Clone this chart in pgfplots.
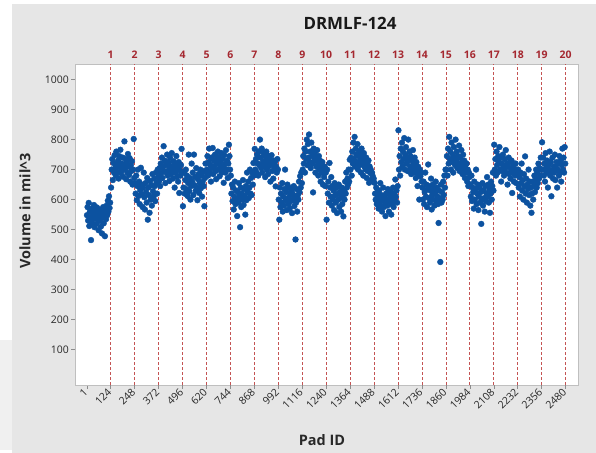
\documentclass[border=0pt]{standalone}
\usepackage{fontspec}
\setmainfont{Open Sans}
\usepackage{pgfplots}
\pgfplotsset{compat=1.18}
\definecolor{bg}{RGB}{230,230,230}
\definecolor{ptblue}{RGB}{12,82,160}
\definecolor{lnred}{RGB}{196,84,84}
\definecolor{lblred}{RGB}{165,40,48}
\definecolor{txt}{RGB}{40,40,40}
\pgfplotsset{pts/.style={only marks, mark=*, mark size=2.9bp, color=ptblue, mark options={draw=none, fill=ptblue}}}
\begin{document}
\begin{tikzpicture}[x=1bp,y=1bp]
\fill[white] (0,0) rectangle (596,453);
\fill[bg] (12,0) rectangle (596,449);
\fill[black!6] (0,3) rectangle (12,113);
\begin{axis}[at={(75bp,68bp)}, anchor=south west, scale only axis, width=503bp, height=321bp,
  xmin=-61, xmax=2544, ymin=-18, ymax=1052,
  axis background/.style={fill=white},
  axis line style={draw=black!25},
  xtick={1,124,248,372,496,620,744,868,992,1116,1240,1364,1488,1612,1736,1860,1984,2108,2232,2356,2480},
  ytick={100,200,300,400,500,600,700,800,900,1000},
  extra x ticks={124,248,372,496,620,744,868,992,1116,1240,1364,1488,1612,1736,1860,1984,2108,2232,2356,2480},
  extra x tick labels={},
  extra x tick style={grid=major},
  major grid style={draw=lnred, line width=0.8bp, dash pattern=on 3bp off 2bp},
  tick align=outside, tick pos=left, major tick length=4bp,
  tick style={draw=black!45, line width=0.6bp},
  scaled ticks=false, /pgf/number format/assume math mode=true, /pgf/number format/1000 sep={},
  ticklabel style={font=\fontsize{10.5}{12}\selectfont, text=black!85},
  xticklabel style={rotate=45, anchor=east, inner sep=1.5bp},
  yticklabel style={inner sep=2bp},
]
\addplot[pts] table[x expr=\coordindex*3+1, y index=0, header=false, row sep=\\] {548\\575\\530\\589\\512\\560\\541\\465\\570\\523\\555\\537\\582\\508\\546\\563\\519\\574\\535\\552\\498\\567\\529\\544\\510\\558\\487\\540\\575\\521\\552\\478\\565\\535\\580\\548\\596\\560\\611\\572\\590\\};
\addplot[pts] table[x expr=\coordindex*3+126, y index=0, header=false, row sep=\\] {640\\700\\735\\665\\722\\690\\748\\705\\680\\760\\715\\692\\730\\670\\745\\708\\766\\688\\720\\698\\740\\676\\712\\794\\702\\735\\668\\725\\690\\752\\710\\682\\738\\660\\715\\695\\728\\650\\700\\802\\672\\};
\addplot[pts] table[x expr=\coordindex*3+250, y index=0, header=false, row sep=\\] {655\\620\\680\\598\\645\\700\\612\\660\\585\\632\\706\\618\\650\\575\\640\\690\\608\\567\\655\\625\\590\\672\\533\\640\\615\\556\\662\\600\\648\\580\\685\\628\\610\\670\\645\\595\\690\\655\\620\\700\\675\\};
\addplot[pts] table[x expr=\coordindex*3+374, y index=0, header=false, row sep=\\] {660\\705\\645\\720\\688\\740\\672\\710\\778\\695\\730\\655\\715\\690\\750\\680\\725\\700\\662\\740\\712\\685\\755\\698\\670\\728\\705\\640\\718\\690\\745\\676\\708\\660\\725\\622\\698\\680\\715\\769\\690\\};
\addplot[pts] table[x expr=\coordindex*3+498, y index=0, header=false, row sep=\\] {578\\640\\690\\620\\665\\700\\635\\680\\612\\655\\750\\628\\672\\600\\645\\720\\660\\690\\615\\750\\648\\675\\630\\705\\640\\598\\668\\685\\622\\655\\700\\638\\680\\610\\660\\695\\645\\578\\672\\720\\690\\};
\addplot[pts] table[x expr=\coordindex*3+622, y index=0, header=false, row sep=\\] {700\\745\\680\\725\\770\\690\\715\\660\\740\\705\\772\\685\\730\\712\\750\\695\\668\\735\\720\\760\\700\\742\\678\\725\\710\\755\\690\\735\\705\\656\\748\\718\\690\\765\\700\\730\\672\\720\\783\\745\\700\\};
\addplot[pts] table[x expr=\coordindex*3+746, y index=0, header=false, row sep=\\] {680\\620\\650\\595\\640\\567\\610\\660\\585\\630\\600\\545\\625\\590\\655\\610\\508\\640\\575\\620\\600\\665\\582\\635\\612\\550\\645\\598\\690\\625\\660\\605\\640\\700\\620\\672\\615\\690\\650\\722\\680\\};
\addplot[pts] table[x expr=\coordindex*3+870, y index=0, header=false, row sep=\\] {769\\700\\735\\690\\750\\720\\680\\760\\715\\800\\740\\705\\770\\690\\725\\755\\710\\745\\675\\730\\760\\700\\720\\685\\745\\712\\735\\660\\720\\748\\695\\715\\670\\730\\700\\725\\644\\710\\690\\735\\700\\};
\addplot[pts] table[x expr=\coordindex*3+994, y index=0, header=false, row sep=\\] {600\\533\\640\\575\\620\\590\\655\\560\\610\\580\\635\\700\\598\\625\\565\\650\\605\\585\\640\\570\\615\\595\\630\\555\\620\\600\\645\\578\\610\\467\\590\\635\\560\\615\\600\\660\\625\\678\\640\\690\\655\\};
\addplot[pts] table[x expr=\coordindex*3+1118, y index=0, header=false, row sep=\\] {700\\745\\720\\770\\690\\760\\735\\800\\715\\785\\740\\817\\725\\760\\705\\790\\745\\720\\624\\770\\730\\755\\690\\740\\710\\765\\725\\680\\745\\700\\730\\660\\715\\690\\725\\650\\700\\675\\710\\645\\690\\};
\addplot[pts] table[x expr=\coordindex*3+1242, y index=0, header=false, row sep=\\] {533\\700\\620\\660\\590\\722\\640\\610\\675\\580\\645\\600\\630\\565\\655\\615\\590\\640\\555\\620\\600\\650\\575\\625\\605\\560\\640\\585\\615\\544\\630\\600\\660\\620\\690\\640\\670\\650\\700\\660\\733\\};
\addplot[pts] table[x expr=\coordindex*3+1366, y index=0, header=false, row sep=\\] {700\\740\\680\\760\\720\\790\\735\\809\\710\\770\\750\\725\\785\\700\\745\\760\\715\\735\\690\\770\\725\\745\\680\\755\\710\\730\\700\\740\\672\\720\\695\\730\\656\\710\\689\\700\\665\\690\\680\\660\\670\\};
\addplot[pts] table[x expr=\coordindex*3+1490, y index=0, header=false, row sep=\\] {656\\620\\600\\640\\585\\625\\610\\570\\630\\595\\655\\580\\615\\560\\600\\640\\575\\610\\590\\545\\620\\600\\580\\635\\595\\560\\615\\585\\625\\550\\605\\590\\640\\575\\620\\600\\667\\610\\630\\590\\645\\};
\addplot[pts] table[x expr=\coordindex*3+1614, y index=0, header=false, row sep=\\] {831\\700\\745\\680\\770\\725\\790\\710\\760\\735\\805\\700\\750\\775\\720\\740\\695\\800\\730\\760\\710\\745\\685\\735\\700\\765\\720\\690\\740\\705\\672\\725\\690\\645\\710\\680\\600\\700\\678\\690\\660\\};
\addplot[pts] table[x expr=\coordindex*3+1738, y index=0, header=false, row sep=\\] {640\\600\\660\\585\\625\\690\\610\\650\\575\\635\\717\\605\\645\\590\\630\\670\\567\\615\\650\\600\\635\\580\\622\\660\\595\\640\\610\\585\\522\\630\\605\\392\\650\\590\\625\\600\\660\\615\\680\\640\\700\\};
\addplot[pts] table[x expr=\coordindex*3+1862, y index=0, header=false, row sep=\\] {700\\745\\680\\770\\720\\809\\735\\760\\700\\790\\725\\750\\690\\775\\740\\715\\800\\730\\760\\705\\745\\720\\780\\695\\740\\710\\765\\725\\685\\750\\700\\730\\672\\715\\690\\720\\660\\700\\645\\690\\675\\};
\addplot[pts] table[x expr=\coordindex*3+1986, y index=0, header=false, row sep=\\] {650\\610\\680\\595\\640\\625\\570\\660\\600\\635\\700\\585\\620\\650\\565\\610\\640\\590\\625\\519\\600\\655\\580\\630\\605\\560\\645\\595\\620\\675\\610\\650\\590\\635\\556\\620\\660\\600\\645\\690\\630\\};
\addplot[pts] table[x expr=\coordindex*3+2110, y index=0, header=false, row sep=\\] {783\\700\\735\\680\\760\\715\\690\\745\\725\\775\\700\\740\\660\\720\\695\\750\\710\\680\\735\\705\\765\\690\\720\\650\\710\\740\\685\\725\\670\\700\\730\\622\\690\\715\\660\\700\\680\\720\\655\\700\\690\\};
\addplot[pts] table[x expr=\coordindex*3+2234, y index=0, header=false, row sep=\\] {700\\640\\675\\610\\690\\655\\720\\630\\665\\600\\685\\645\\744\\620\\670\\590\\650\\635\\700\\615\\660\\580\\640\\556\\620\\660\\600\\645\\680\\625\\665\\700\\640\\690\\655\\720\\670\\705\\680\\740\\700\\};
\addplot[pts] table[x expr=\coordindex*3+2358, y index=0, header=false, row sep=\\] {791\\700\\740\\680\\720\\660\\755\\705\\690\\730\\640\\715\\700\\760\\680\\725\\611\\695\\740\\670\\710\\690\\750\\665\\705\\725\\640\\700\\720\\680\\745\\690\\730\\660\\715\\770\\700\\740\\690\\775\\720\\};
\end{axis}
\begin{axis}[at={(75bp,68bp)}, anchor=south west, scale only axis, width=503bp, height=321bp,
  xmin=-61, xmax=2544, ymin=0, ymax=1,
  axis line style={draw=none}, ytick=\empty,
  xtick={124,248,372,496,620,744,868,992,1116,1240,1364,1488,1612,1736,1860,1984,2108,2232,2356,2480},
  xticklabels={1,2,3,4,5,6,7,8,9,10,11,12,13,14,15,16,17,18,19,20},
  xticklabel pos=right, major tick length=0pt,
  xticklabel style={font=\bfseries\fontsize{10.5}{13}\selectfont, text=lblred, inner sep=2bp, yshift=3bp},
]
\end{axis}
\node[rotate=90, font=\bfseries\fontsize{14.5}{18}\selectfont, text=txt] at (25,242) {Volume in mil\textasciicircum 3};
\node[font=\bfseries\fontsize{14.5}{18}\selectfont, text=txt] at (322,13) {Pad ID};
\node[font=\bfseries\fontsize{17}{21}\selectfont, text=black!90] at (350,430) {DRMLF-124};
\end{tikzpicture}
\end{document}
